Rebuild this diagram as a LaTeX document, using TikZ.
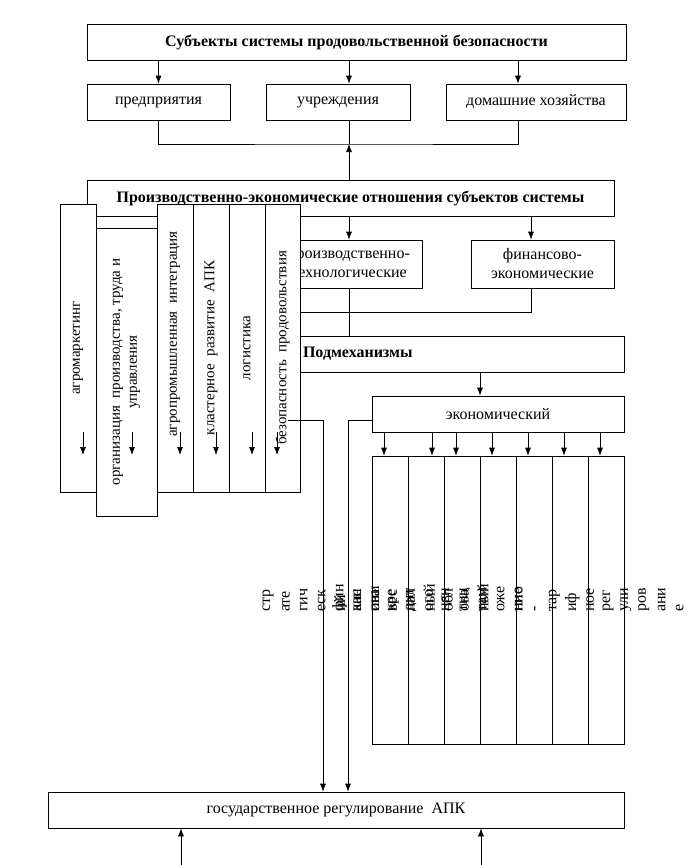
\documentclass[tikz,border=0pt]{standalone}
\usepackage{fontspec}
\setmainfont{Liberation Serif}
\usetikzlibrary{arrows.meta, positioning}
\tikzset{
    block/.style={rectangle, draw=black, fill=white, line width=0.7pt, inner sep=2pt, align=center, font=\fontsize{16}{19}\selectfont},
    headblock/.style={block, font=\fontsize{16}{19}\selectfont\bfseries},
    vblock/.style={block, rotate=90, minimum width=288pt, minimum height=36pt, font=\fontsize{15}{17}\selectfont},
    cell/.style={rectangle, draw=black, line width=0.7pt, minimum width=36pt, minimum height=288pt},
    frag/.style={rotate=90, anchor=west, inner sep=0pt, font=\fontsize{16}{19}\selectfont},
    arrow/.style={line width=0.7pt, -{Latex[length=8pt,width=6pt]}},
    link/.style={line width=0.7pt}
}

\begin{document}
\begin{tikzpicture}[x=1pt, y=-1pt]
\useasboundingbox (0,0) rectangle (690,865);

% Subjects
\node (subj) [headblock, minimum width=539pt, minimum height=36pt] at (356.5,42) {Субъекты системы продовольственной безопасности};
\node (ent) [block, minimum width=143pt, minimum height=36pt] at (158.5,102) {предприятия};
\node (inst) [block, minimum width=144pt, minimum height=36pt] at (338,102) {учреждения};
\node (house) [block, minimum width=180pt, minimum height=36pt] at (536,102) {домашние хозяйства};
\coordinate (join) at (349,144);

\draw [arrow] (ent.north |- subj.south) -- (ent.north);
\draw [arrow] ([xshift=11pt]inst.north |- subj.south) -- ([xshift=11pt]inst.north);
\draw [arrow] ([xshift=-18pt]house.north |- subj.south) -- ([xshift=-18pt]house.north);
\draw [link] (ent.south) |- (join) -| ([xshift=-18pt]house.south);
\draw [link] ([xshift=11pt]inst.south) -- (join);

% Relations
\node (rel) [headblock, minimum width=527pt, minimum height=36pt] at (350.5,198) {Производственно-экономические отношения субъектов системы};
\node (prodtech) [block, minimum width=146pt, minimum height=48pt] at (349,264) {производственно-\\технологические};
\node (fin) [block, minimum width=143pt, minimum height=48pt] at (542.5,264) {финансово-\\экономические};
\node (submech) [headblock, minimum width=324pt, minimum height=36pt, text width=318pt, align=left] at (462,354) {Подмеханизмы};
\node (econ) [block, minimum width=252pt, minimum height=36pt] at (498,414) {экономический};
\node (gov) [block, minimum width=576pt, minimum height=36pt] at (336,810) {государственное регулирование\ \ АПК};
\coordinate (hidden) at (290,312);

\draw [arrow] (join |- rel.north) -- (join);
\draw [arrow] (prodtech.north |- rel.south) -- (prodtech.north);
\draw [arrow] ([xshift=-11.5pt]fin.north |- rel.south) -- ([xshift=-11.5pt]fin.north);
\draw [link] (prodtech.south) -- (prodtech.south |- submech.north);
\draw [link] ([xshift=-11.5pt]fin.south) |- (hidden);

% Vertical blocks
\node (agromk) [vblock] at (78,348) {агромаркетинг};
\node (orgprod) [vblock, minimum height=61pt] at (126.5,372) {организация\ \ производства, труда и\\управления};
\node (agroint) [vblock] at (175,348) {\hspace*{28pt}агропромышленная\ \ интеграция};
\node (cluster) [vblock] at (211,348) {кластерное\ \ развитие\ \ АПК};
\node (logist) [vblock] at (247,348) {логистика};
\node (safety) [vblock, minimum height=35pt] at (282.5,348) {безопасность\ \ продовольствия};

\foreach \x in {83,132,180,216,252,277}
    \draw [arrow] (\x,432) -- (\x,455);

% Submechanisms
\draw [arrow] ([xshift=-18pt]econ.north |- submech.south) -- ([xshift=-18pt]econ.north);
\foreach \i in {1,...,7}
    \node (col\i) [cell] at ({354+36*\i},600) {};
\foreach \i/\dx in {1/-6,2/6,3/-6,4/-6,5/-6,6/-6,7/-6}
    \draw [arrow] ([xshift=\dx pt]col\i.north |- econ.south) -- ([xshift=\dx pt]col\i.north);

\coordinate (tap) at (288,420);
\draw [arrow] (tap) -| ([xshift=-13pt]gov.north);
\draw [arrow] ([yshift=-6pt]econ.west) -| ([xshift=12pt]gov.north);

% Broken cell texts
\foreach \k/\t in {0/стр,1/ате,2/гич,3/еск,4/ий,5/кан,6/ова,7/кре,8/нал,9/ого,10/обл,11/ова,12/там,13/оже,14/ние,15/-,16/тар,17/иф,18/ное,19/рег,20/ули,21/ров,22/ани,23/е}
    \node (fa\k) [frag] at ({268+17.9*\k},612) {\t};
\foreach \k/\t in {4/фин,5/анс,6/ини,7/вес,8/дит,9/ный,10/цен,11/тиц,12/ный,14/нно}
    \node (fb\k) [frag] at ({268+17.9*\k},612) {\t};

% Inputs
\coordinate (in1) at (181,865);
\coordinate (in2) at (481,865);
\draw [arrow] (in1) -- (in1 |- gov.south);
\draw [arrow] (in2) -- (in2 |- gov.south);

\end{tikzpicture}
\end{document}
